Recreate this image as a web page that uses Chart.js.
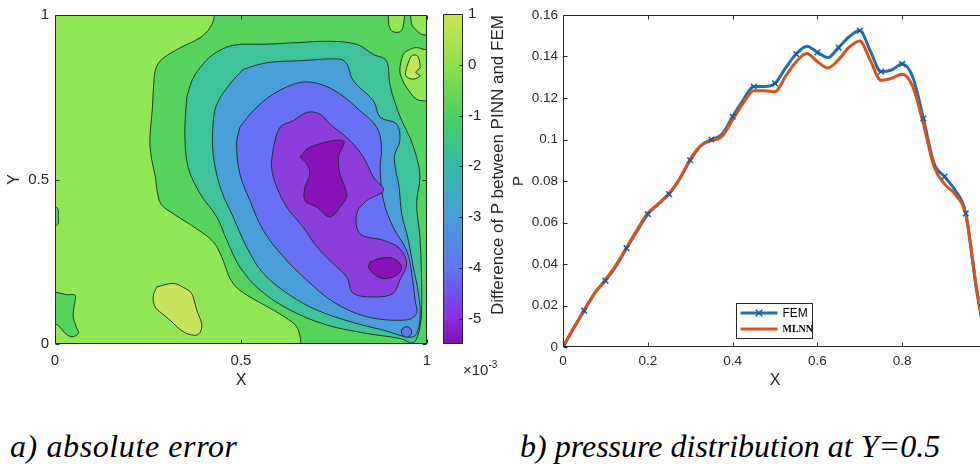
<!DOCTYPE html>
<html><head><meta charset="utf-8">
<script src="https://cdn.jsdelivr.net/npm/chart.js@4.4.1/dist/chart.umd.min.js"></script>
<style>
html,body{margin:0;padding:0;background:#fff;}
body{width:980px;height:464px;overflow:hidden;position:relative;font-family:"Liberation Sans",Arial,sans-serif;}
canvas{position:absolute;top:0;}
.cap{position:absolute;font-family:"Liberation Serif","Times New Roman",serif;font-style:italic;font-size:32px;line-height:36px;color:#000;white-space:nowrap;}
#cbTitle{position:absolute;left:338px;top:155px;width:320px;height:20px;line-height:20px;text-align:center;font-size:17px;color:#262626;transform:rotate(-90deg);transform-origin:50% 50%;white-space:nowrap;}
#cbExp{position:absolute;left:463px;top:359px;font-size:15px;color:#262626;white-space:nowrap;}
#cbExp sup{font-size:10px;vertical-align:7px;}
</style></head><body>
<canvas id="cA" width="440" height="400" style="left:0px"></canvas>
<canvas id="cB" width="70" height="400" style="left:430px"></canvas>
<canvas id="cC" width="520" height="400" style="left:500px"></canvas>
<div id="cbTitle">Difference of P between PINN and FEM</div>
<div id="cbExp">×10<sup>-3</sup></div>
<div class="cap" style="left:10px;top:428px;letter-spacing:0.6px">a) absolute error</div>
<div class="cap" style="left:520px;top:428px">b) pressure distribution at Y=0.5</div>
<script>
// ---------------- DATA ----------------
// Panel b: pressure along Y=0.5
const xP = [0,0.025,0.05,0.075,0.1,0.125,0.15,0.175,0.2,0.225,0.25,0.275,0.3,0.325,0.35,0.375,0.4,0.425,0.45,0.475,0.5,0.525,0.55,0.575,0.6,0.625,0.65,0.675,0.7,0.725,0.75,0.775,0.8,0.825,0.85,0.875,0.9,0.925,0.95,0.975,1];
const femP = [0,0.009,0.0175,0.026,0.032,0.039,0.0476,0.056,0.064,0.069,0.0737,0.081,0.090,0.097,0.100,0.1025,0.111,0.119,0.1255,0.1255,0.127,0.1345,0.1412,0.145,0.142,0.1395,0.1443,0.1495,0.1525,0.1425,0.1327,0.1335,0.1364,0.130,0.1102,0.0885,0.0821,0.0755,0.0644,0.028,0];
const mlnnP = [0,0.009,0.018,0.026,0.0325,0.0395,0.048,0.0565,0.0645,0.069,0.074,0.081,0.0905,0.097,0.0995,0.1015,0.1095,0.1175,0.1235,0.1235,0.123,0.1305,0.1375,0.1415,0.1375,0.1345,0.1385,0.1445,0.1475,0.138,0.1285,0.1295,0.1315,0.1255,0.1075,0.087,0.0785,0.0735,0.0635,0.029,0];
const pTicksX = [0,0.2,0.4,0.6,0.8,1];
const pTicksY = [0,0.02,0.04,0.06,0.08,0.1,0.12,0.14,0.16];

// Panel a: contour regions (x, y) of the error field, value levels x1e-3
const regionBase = [[-0.1,-0.1],[1.1,-0.1],[1.1,1.1],[-0.1,1.1],[-0.1,-0.1]];
const regionGreen = [[0.7,1.08],[1.08,1.08],[1.08,0.5],[1.08,-0.08],[0.8,-0.08],[0.662,-0.08],[0.661,-0.01],[0.659,0.022],[0.648,0.055],[0.62,0.08],[0.587,0.103],[0.524,0.143],[0.49,0.17],[0.47,0.2],[0.458,0.235],[0.448,0.265],[0.426,0.31],[0.381,0.35],[0.318,0.396],[0.285,0.425],[0.274,0.47],[0.27,0.507],[0.26,0.56],[0.255,0.618],[0.262,0.72],[0.266,0.8],[0.272,0.84],[0.29,0.868],[0.336,0.9],[0.39,0.931],[0.417,0.962],[0.428,0.995],[0.43,1.08],[0.7,1.08]];
const regionGreenBL = [[-0.08,0.165],[0.0,0.158],[0.03,0.15],[0.054,0.148],[0.052,0.12],[0.049,0.083],[0.058,0.05],[0.063,0.032],[0.045,0.022],[0.025,0.035],[0.013,0.052],[0.0,0.06],[-0.08,0.06],[-0.08,0.165]];
const regionGreenL = [[-0.08,0.42],[0.004,0.415],[0.009,0.39],[0.004,0.36],[-0.08,0.355],[-0.08,0.42]];
const regionLightTR = [[1.08,0.9],[0.995,0.895],[0.972,0.901],[0.95,0.893],[0.936,0.88],[0.927,0.83],[0.935,0.8],[0.945,0.78],[0.972,0.744],[1.0,0.739],[1.08,0.74],[1.08,0.9]];
const regionLightTop1 = [[0.895,1.08],[0.897,0.975],[0.905,0.952],[0.925,0.948],[0.936,0.965],[0.94,1.08],[0.895,1.08]];
const regionLightTop2 = [[0.955,1.08],[0.958,0.975],[0.975,0.95],[0.99,0.94],[1.08,0.94],[1.08,1.08],[0.955,1.08]];
const regionYellowBL = [[0.274,0.174],[0.318,0.184],[0.345,0.172],[0.367,0.154],[0.381,0.103],[0.394,0.063],[0.392,0.04],[0.381,0.027],[0.354,0.032],[0.33,0.05],[0.309,0.073],[0.285,0.095],[0.269,0.113],[0.264,0.145],[0.274,0.174]];
const regionYellowTR = [[0.945,0.84],[0.952,0.862],[0.959,0.876],[0.97,0.878],[0.977,0.871],[0.981,0.84],[0.97,0.826],[0.981,0.815],[0.963,0.805],[0.943,0.815],[0.945,0.84]];
const regionTeal = [[0.354,0.749],[0.368,0.80],[0.39,0.84],[0.425,0.88],[0.479,0.908],[0.56,0.911],[0.65,0.916],[0.739,0.92],[0.811,0.911],[0.856,0.88],[0.891,0.861],[0.9,0.79],[0.918,0.72],[0.936,0.669],[0.954,0.628],[0.972,0.568],[0.981,0.507],[0.972,0.426],[0.981,0.325],[0.986,0.143],[0.981,0.052],[0.963,0.004],[0.927,0.017],[0.838,0.032],[0.73,0.058],[0.632,0.103],[0.551,0.164],[0.497,0.234],[0.462,0.315],[0.435,0.386],[0.39,0.457],[0.358,0.537],[0.349,0.638],[0.354,0.749]];
const regionBlue = [[0.506,0.835],[0.569,0.855],[0.659,0.861],[0.766,0.866],[0.785,0.85],[0.802,0.8],[0.856,0.739],[0.874,0.689],[0.918,0.669],[0.927,0.618],[0.912,0.568],[0.925,0.477],[0.932,0.396],[0.95,0.315],[0.963,0.234],[0.977,0.154],[0.981,0.073],[0.963,0.022],[0.883,0.042],[0.793,0.068],[0.704,0.103],[0.632,0.148],[0.56,0.214],[0.515,0.295],[0.479,0.386],[0.444,0.477],[0.425,0.578],[0.425,0.669],[0.435,0.729],[0.47,0.79],[0.506,0.835]];
const regionViolet = [[0.497,0.659],[0.533,0.709],[0.587,0.76],[0.659,0.795],[0.712,0.79],[0.766,0.76],[0.82,0.709],[0.865,0.659],[0.878,0.598],[0.874,0.537],[0.883,0.436],[0.909,0.355],[0.945,0.285],[0.959,0.214],[0.968,0.133],[0.972,0.093],[0.945,0.073],[0.838,0.083],[0.748,0.128],[0.677,0.194],[0.614,0.265],[0.56,0.345],[0.524,0.436],[0.497,0.517],[0.488,0.608],[0.497,0.659]];
const regionVioletDot = [[0.945,0.053],[0.955,0.048],[0.959,0.037],[0.955,0.026],[0.945,0.021],[0.935,0.026],[0.931,0.037],[0.935,0.048],[0.945,0.053]];
const regionPurple = [[0.587,0.598],[0.605,0.659],[0.641,0.679],[0.677,0.704],[0.712,0.699],[0.739,0.669],[0.793,0.618],[0.829,0.568],[0.856,0.507],[0.883,0.467],[0.838,0.436],[0.811,0.396],[0.82,0.335],[0.883,0.315],[0.927,0.29],[0.945,0.244],[0.927,0.194],[0.909,0.154],[0.865,0.143],[0.802,0.154],[0.784,0.204],[0.748,0.244],[0.704,0.295],[0.667,0.355],[0.623,0.416],[0.596,0.477],[0.582,0.537],[0.587,0.598]];
const regionDark1 = [[0.659,0.568],[0.685,0.598],[0.775,0.618],[0.762,0.568],[0.766,0.517],[0.784,0.452],[0.766,0.416],[0.739,0.386],[0.704,0.416],[0.672,0.436],[0.672,0.477],[0.685,0.517],[0.677,0.547],[0.659,0.568]];
const regionDark2 = [[0.847,0.249],[0.874,0.26],[0.909,0.26],[0.932,0.234],[0.918,0.209],[0.883,0.199],[0.856,0.214],[0.843,0.234],[0.847,0.249]];
const axisTicksA = [0,0.5,1];

// colour bar
const cbRange = [-5.5, 1];
const cbStops = [-5.5,-5,-4.5,-4,-3,-2,-1,0,1];

// ---------------- STYLE ----------------
const FONT = "'Liberation Sans', Arial, Helvetica, sans-serif";
const TXT = '#262626';
const cbColors = ['#7a12b4','#8a2ee0','#7350f0','#5f78ee','#4a9dd6','#35b9a8','#4ccf5e','#8ee04e','#cfe352'];
const lev = {yellow:'#c8e45a', light:'#91e653', green:'#55d45d', teal:'#3fc39b', blue:'#4b9fd9', violet:'#6870f4', purple:'#8c3edb', dark:'#8a12b6'};
const regions = [
  {pts: regionBase, c: lev.light, edge: false},
  {pts: regionGreen, c: lev.green},
  {pts: regionGreenBL, c: lev.green},
  {pts: regionGreenL, c: lev.green},
  {pts: regionLightTR, c: lev.light},
  {pts: regionLightTop1, c: lev.light},
  {pts: regionLightTop2, c: lev.light},
  {pts: regionYellowBL, c: lev.yellow},
  {pts: regionYellowTR, c: lev.yellow},
  {pts: regionTeal, c: lev.teal},
  {pts: regionBlue, c: lev.blue},
  {pts: regionViolet, c: lev.violet},
  {pts: regionVioletDot, c: lev.violet},
  {pts: regionPurple, c: lev.purple},
  {pts: regionDark1, c: lev.dark},
  {pts: regionDark2, c: lev.dark}
];
const fmt = v => String(+(+v).toFixed(3));

const matlabBox = {
  id: 'matlabBox',
  afterDatasetsDraw(chart, args, opts) {
    const {ctx, chartArea: a, scales} = chart;
    const L = opts.len || 4;
    ctx.save();
    ctx.strokeStyle = opts.color || TXT;
    ctx.lineWidth = 1;
    ctx.beginPath();
    const l = Math.round(a.left) + 0.5, t = Math.round(a.top) + 0.5;
    const r = Math.round(a.right) - 0.5, b = Math.round(a.bottom) - 0.5;
    ctx.moveTo(l, t); ctx.lineTo(r, t); ctx.lineTo(r, b); ctx.lineTo(l, b); ctx.closePath();
    if (opts.xTicks !== false && scales.x) {
      scales.x.ticks.forEach(tk => {
        const x = Math.round(scales.x.getPixelForValue(tk.value)) + 0.5;
        ctx.moveTo(x, b); ctx.lineTo(x, b - L);
        ctx.moveTo(x, t); ctx.lineTo(x, t + L);
      });
    }
    scales.y.ticks.forEach(tk => {
      if (tk.label === '') return;
      const y = Math.round(scales.y.getPixelForValue(tk.value)) + 0.5;
      if (opts.yLeft !== false) { ctx.moveTo(l, y); ctx.lineTo(l + L, y); }
      ctx.moveTo(r, y); ctx.lineTo(r - L, y);
    });
    ctx.stroke();
    ctx.restore();
  }
};

Chart.defaults.font.family = FONT;
Chart.defaults.color = TXT;

// ---------------- PANEL A: contour ----------------
new Chart(document.getElementById('cA'), {
  type: 'line',
  data: {
    datasets: regions.map((r, i) => ({
      data: r.pts.map(p => ({x: p[0], y: p[1]})),
      backgroundColor: r.c,
      borderColor: r.edge === false ? 'rgba(0,0,0,0)' : 'rgba(25,40,30,0.9)',
      borderWidth: r.edge === false ? 0 : 1,
      fill: 'shape',
      tension: r.edge === false ? 0 : 0.35,
      pointRadius: 0,
      clip: 0,
      order: regions.length - i
    }))
  },
  options: {
    responsive: false, animation: false, devicePixelRatio: 1, events: [],
    layout: {padding: {left: 0, top: 14, right: 13, bottom: 0}},
    plugins: {legend: {display: false}, tooltip: {enabled: false}, matlabBox: {len: 4}},
    scales: {
      x: {type: 'linear', min: 0, max: 1,
          afterBuildTicks: s => { s.ticks = axisTicksA.map(v => ({value: v})); },
          ticks: {callback: fmt, font: {size: 15}, color: TXT, padding: 8, maxRotation: 0},
          grid: {display: false, drawTicks: false}, border: {display: false},
          title: {display: true, text: 'X', font: {size: 16}, color: TXT, padding: {top: 0, bottom: 10}},
          afterFit: s => { s.height = 56; }},
      y: {type: 'linear', min: 0, max: 1,
          afterBuildTicks: s => { s.ticks = axisTicksA.map(v => ({value: v})); },
          ticks: {callback: fmt, font: {size: 15}, color: TXT, padding: 6},
          grid: {display: false, drawTicks: false}, border: {display: false},
          title: {display: true, text: 'Y', font: {size: 16}, color: TXT, padding: {top: 5, bottom: 0}},
          afterFit: s => { s.width = 55; }}
    }
  },
  plugins: [matlabBox]
});

// ---------------- COLOUR BAR ----------------
new Chart(document.getElementById('cB'), {
  type: 'bar',
  data: {labels: ['cb'], datasets: [{
    data: [cbRange],
    backgroundColor: (c) => {
      const ch = c.chart, ys = ch.scales.y;
      if (!ch.chartArea || !ys) return cbColors[0];
      const y0 = ys.getPixelForValue(cbRange[0]), y1 = ys.getPixelForValue(cbRange[1]);
      const g = ch.ctx.createLinearGradient(0, y0, 0, y1);
      cbStops.forEach((v, i) => g.addColorStop((v - cbRange[0]) / (cbRange[1] - cbRange[0]), cbColors[i]));
      return g;
    },
    borderWidth: 0, barPercentage: 1, categoryPercentage: 1
  }]},
  options: {
    responsive: false, animation: false, devicePixelRatio: 1, events: [],
    layout: {padding: {left: 13, top: 14, right: 0, bottom: 56}},
    plugins: {legend: {display: false}, tooltip: {enabled: false}, matlabBox: {len: 3, xTicks: false, yLeft: false}},
    scales: {
      x: {display: false},
      y: {position: 'right', min: cbRange[0], max: cbRange[1],
          ticks: {stepSize: 1, callback: v => Number.isInteger(v) ? String(v) : '', font: {size: 15}, color: TXT, padding: 5},
          grid: {display: false, drawTicks: false}, border: {display: false},
          afterFit: s => { s.width = 37; }}
    }
  },
  plugins: [matlabBox]
});

// ---------------- PANEL B: pressure ----------------
const legendBox = {
  id: 'legendBox',
  afterDraw(chart) {
    const {ctx, chartArea: a} = chart;
    const L = Math.round(a.left + 0.408 * a.width) + 0.5, T = Math.round(a.top + 0.867 * a.height) + 0.5;
    const W = 76, H = 35;
    ctx.save();
    ctx.fillStyle = '#fff';
    ctx.fillRect(L, T, W, H);
    ctx.strokeStyle = TXT; ctx.lineWidth = 1;
    ctx.strokeRect(L, T, W, H);
    const y1 = T + 9.5, y2 = T + 25.5;
    ctx.lineWidth = 3; ctx.lineCap = 'butt';
    ctx.strokeStyle = '#1f6fb2';
    ctx.beginPath(); ctx.moveTo(L + 4, y1); ctx.lineTo(L + 41, y1); ctx.stroke();
    ctx.lineWidth = 1.5; ctx.strokeStyle = '#1a5e98';
    const mx = L + 22.5, r = 3.2;
    ctx.beginPath(); ctx.moveTo(mx - r, y1 - r); ctx.lineTo(mx + r, y1 + r); ctx.moveTo(mx - r, y1 + r); ctx.lineTo(mx + r, y1 - r); ctx.stroke();
    ctx.lineWidth = 3; ctx.strokeStyle = '#d95319';
    ctx.beginPath(); ctx.moveTo(L + 4, y2); ctx.lineTo(L + 41, y2); ctx.stroke();
    ctx.fillStyle = '#000'; ctx.textBaseline = 'middle'; ctx.textAlign = 'left';
    ctx.font = "12px " + FONT;
    ctx.fillText('FEM', L + 46, y1 + 0.5);
    ctx.font = "bold 10px 'Liberation Serif', 'Times New Roman', serif";
    ctx.fillText('MLNN', L + 46, y2 + 0.5);
    ctx.restore();
  }
};

new Chart(document.getElementById('cC'), {
  type: 'line',
  data: {datasets: [
    {label: 'FEM', data: xP.map((x, i) => ({x, y: femP[i]})), borderColor: '#1f6fb2', borderWidth: 3,
     pointRadius: 0, cubicInterpolationMode: 'monotone', fill: false, order: 2, clip: 0},
    {label: 'MLNN', data: xP.map((x, i) => ({x, y: mlnnP[i]})), borderColor: '#d95319', borderWidth: 3,
     pointRadius: 0, cubicInterpolationMode: 'monotone', fill: false, order: 1, clip: 0},
    {label: 'FEM markers', data: xP.map((x, i) => ({x, y: femP[i]})).filter((p, i) => i % 2 === 0),
     showLine: false, pointStyle: 'crossRot', pointRadius: 4, pointBorderColor: '#1a5e98', pointBorderWidth: 1.5,
     pointBackgroundColor: '#1a5e98', order: 0, clip: 0}
  ]},
  options: {
    responsive: false, animation: false, devicePixelRatio: 1, events: [],
    layout: {padding: {left: 0, top: 15, right: 33, bottom: 0}},
    plugins: {legend: {display: false}, tooltip: {enabled: false}, matlabBox: {len: 4}},
    scales: {
      x: {type: 'linear', min: 0, max: 1,
          afterBuildTicks: s => { s.ticks = pTicksX.map(v => ({value: v})); },
          ticks: {callback: v => v === 1 ? '' : fmt(v), font: {size: 13.5}, color: TXT, padding: 6, maxRotation: 0, autoSkip: false},
          grid: {display: false, drawTicks: false}, border: {display: false},
          title: {display: true, text: 'X', font: {size: 16}, color: TXT, padding: {top: 0, bottom: 10}},
          afterFit: s => { s.height = 53; }},
      y: {type: 'linear', min: 0, max: 0.16,
          afterBuildTicks: s => { s.ticks = pTicksY.map(v => ({value: v})); },
          ticks: {callback: fmt, font: {size: 13.5}, color: TXT, padding: 5, autoSkip: false},
          grid: {display: false, drawTicks: false}, border: {display: false},
          title: {display: true, text: 'P', font: {size: 15}, color: TXT, padding: {top: 10, bottom: 0}},
          afterFit: s => { s.width = 63; }}
    }
  },
  plugins: [matlabBox, legendBox]
});
</script>
</body></html>
